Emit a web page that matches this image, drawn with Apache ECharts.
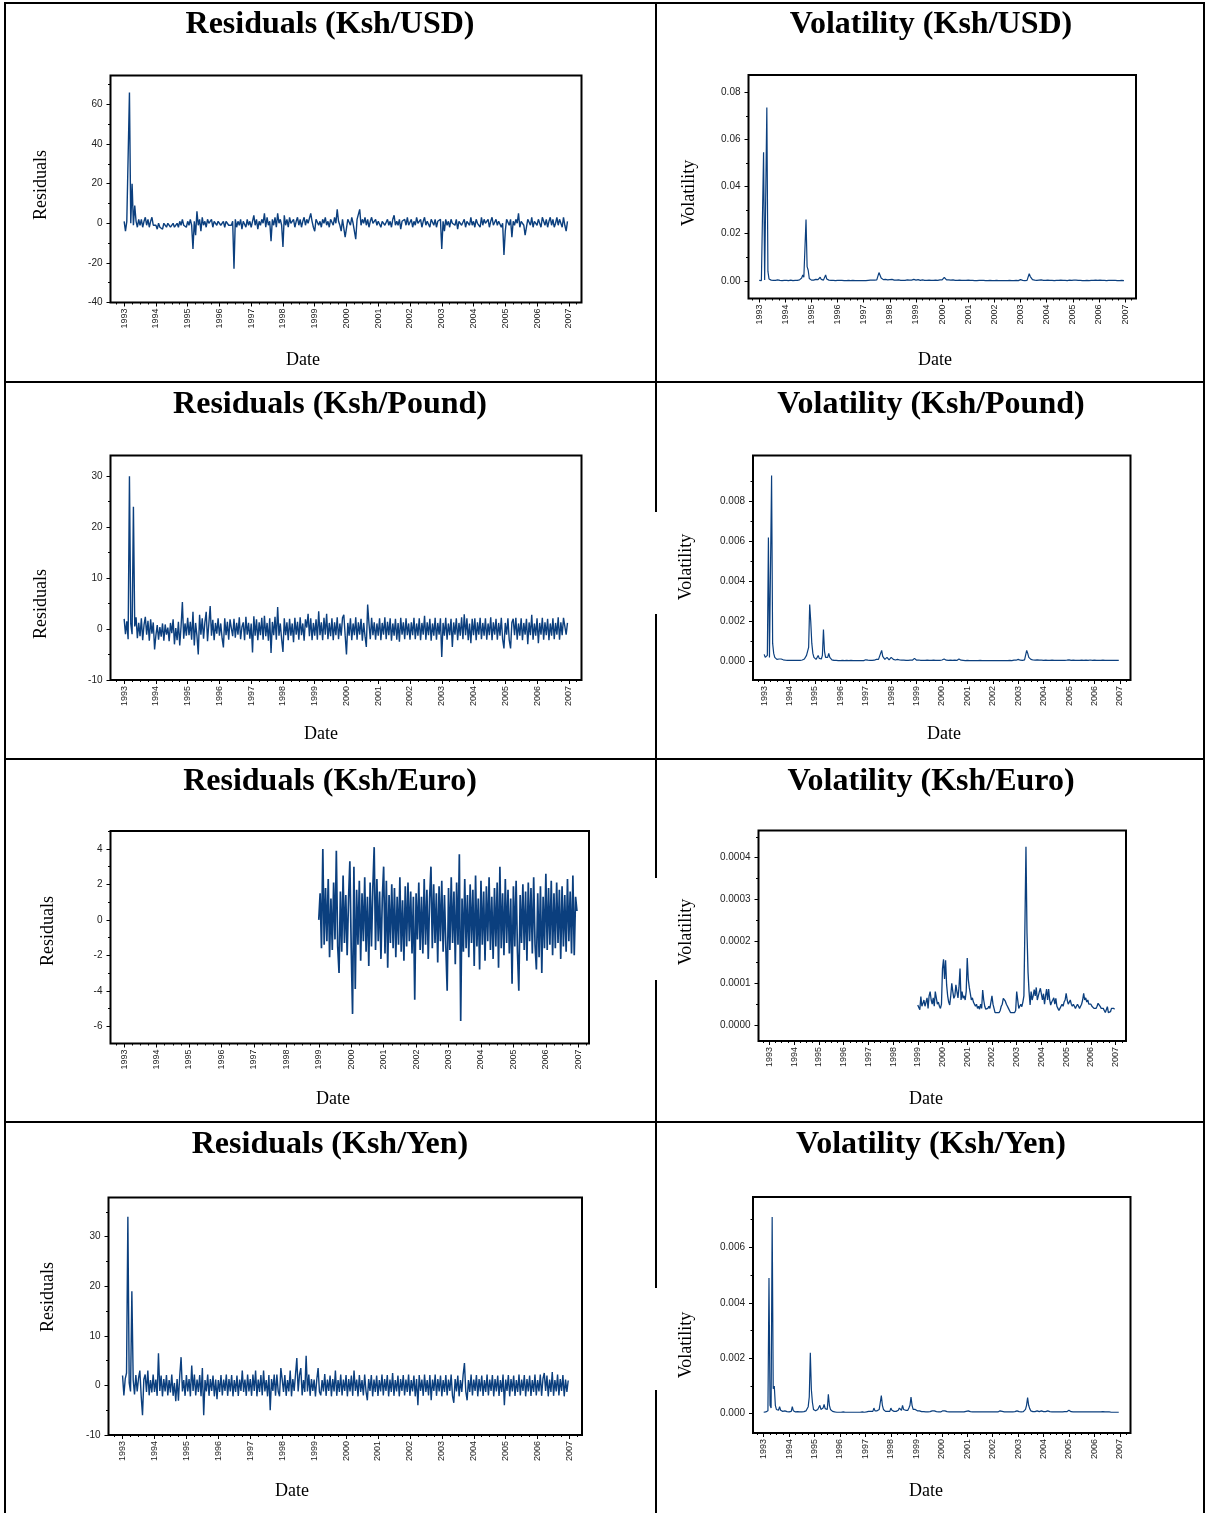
<!DOCTYPE html>
<html><head><meta charset="utf-8">
<script src="https://cdn.jsdelivr.net/npm/echarts@6.0.0/dist/echarts.min.js"></script>
<style>html,body{margin:0;padding:0;background:#fff}#c{width:1207px;height:1513px}</style>
</head><body><div id="c"></div>
<script>
// ---------- tick labels ----------
const years = [1993,1994,1995,1996,1997,1998,1999,2000,2001,2002,2003,2004,2005,2006,2007];
const usdResidTicks = [-40,-20,0,20,40,60];
const usdVolTicks = [0,0.02,0.04,0.06,0.08];
const poundResidTicks = [-10,0,10,20,30];
const poundVolTicks = [0,0.002,0.004,0.006,0.008];
const euroResidTicks = [-6,-4,-2,0,2,4];
const euroVolTicks = [0,0.0001,0.0002,0.0003,0.0004];
const yenResidTicks = [-10,0,10,20,30];
const yenVolTicks = [0,0.002,0.004,0.006];

// ---------- series (half-monthly, 24 values per year) ----------
const usdResidStart = 1993;
const usdResid = [
1,-4,1,0,66,0,20,-1,9,1,-2,2,-1,2,-2,1,3,-1,2,-2,1,3,-1,-2,
-1,-3,0,-2,-1,-3,0,-1,-2,0,-1,-2,-1,0,-2,-1,0,-2,1,-1,2,-1,0,-2,
1,-1,2,-1,-13,1,-6,6,-1,2,-4,3,-1,1,-2,2,0,-1,2,-2,1,0,-1,1,
2,-1,0,1,-2,1,2,-1,0,-1,1,-23,2,-2,1,-1,2,-3,1,0,-2,2,-1,1,
-2,1,4,-1,2,-3,1,-1,2,0,5,-2,3,-1,1,-9,2,-1,3,-2,5,0,2,-1,
-12,4,-1,2,-2,3,0,-1,2,-2,1,3,-1,2,-2,1,3,-1,2,0,-1,5,1,-2,
-4,2,3,-1,1,-2,2,0,3,-1,1,-2,2,1,-1,3,0,7,1,-1,-4,2,1,-7,
-8,2,1,-1,3,0,1,-8,2,1,7,-1,2,0,3,-1,2,-2,1,3,0,-1,2,-1,
1,2,-2,1,2,-1,0,2,-1,1,-2,2,4,-1,1,-1,2,-3,1,0,2,-1,3,-1,
0,2,-2,1,-1,3,0,-1,2,-2,1,3,-1,1,0,-2,2,1,-1,2,-2,1,0,2,
-13,1,-4,2,-1,1,-2,2,0,1,-1,2,-3,1,2,-1,0,2,-2,1,2,-1,3,-1,
1,-2,2,0,1,-2,3,-1,2,0,-1,2,-2,1,3,-1,0,2,-1,1,2,-2,0,-16,
-4,2,1,-1,2,-7,1,-1,2,0,5,-2,1,2,-1,-6,-7,2,1,-1,3,-2,1,2,
-1,2,0,-2,3,1,-1,2,-2,1,3,-1,2,-2,0,3,-1,2,1,-2,3,-1,-4,1];

const usdVolStart = 1993;
const usdVol = [
0.0002,0.0001,0.0001,0.0002,0.0545,0.0003,0.0004,0.0735,0.004,0.0008,0.0004,0.0003,0.0002,0.0002,0.0003,0.0002,0.0002,0.0004,0.0003,0.0002,0.0002,0.0001,0.0002,0.0002,
0.0001,0.0002,0.0002,0.0001,0.0002,0.0003,0.0002,0.0001,0.0002,0.0002,0.0001,0.0002,0.0003,0.0004,0.0006,0.0012,0.0025,0.0015,0.0018,0.026,0.006,0.0045,0.001,0.0005,
0.0003,0.0002,0.0003,0.0004,0.0006,0.0008,0.0005,0.0007,0.0015,0.0006,0.0004,0.0003,0.0005,0.0025,0.0008,0.0004,0.0003,0.0002,0.0002,0.0001,0.0002,0.0002,0.0001,0.0002,
0.0002,0.0001,0.0002,0.0003,0.0002,0.0001,0.0001,0.0002,0.0001,0.0001,0.0002,0.0002,0.0001,0.0001,0.0002,0.0001,0.0001,0.0002,0.0001,0.0001,0.0001,0.0002,0.0001,0.0001,
0.0001,0.0002,0.0001,0.0001,0.0002,0.0002,0.0003,0.0002,0.0003,0.0004,0.0003,0.0005,0.0004,0.0008,0.0035,0.004,0.0012,0.0008,0.0005,0.0004,0.0006,0.0003,0.0004,0.0003,
0.0005,0.001,0.0006,0.0004,0.0003,0.0004,0.0003,0.0002,0.0004,0.0003,0.0002,0.0003,0.0002,0.0003,0.0002,0.0003,0.0004,0.0002,0.0003,0.0002,0.0003,0.0002,0.0006,0.0003,
0.0003,0.0002,0.0005,0.0003,0.0002,0.0003,0.0004,0.0003,0.0002,0.0003,0.0002,0.0002,0.0003,0.0002,0.0002,0.0003,0.0002,0.0002,0.0003,0.0002,0.0002,0.0003,0.0004,0.0003,
0.0004,0.0008,0.0015,0.0007,0.0004,0.0003,0.0004,0.0003,0.0003,0.0002,0.0004,0.0003,0.0002,0.0003,0.0002,0.0002,0.0003,0.0002,0.0002,0.0003,0.0002,0.0003,0.0002,0.0002,
0.0003,0.0002,0.0002,0.0001,0.0002,0.0002,0.0001,0.0002,0.0001,0.0002,0.0002,0.0001,0.0002,0.0003,0.0002,0.0001,0.0001,0.0002,0.0001,0.0001,0.0002,0.0001,0.0001,0.0001,
0.0001,0.0001,0.0002,0.0001,0.0001,0.0001,0.0001,0.0002,0.0001,0.0001,0.0001,0.0001,0.0001,0.0001,0.0002,0.0001,0.0001,0.0001,0.0001,0.0001,0.0002,0.0001,0.0001,0.0002,
0.0005,0.0003,0.0002,0.0002,0.0001,0.0002,0.0002,0.0004,0.003,0.0018,0.001,0.0005,0.0004,0.0003,0.0003,0.0002,0.0002,0.0003,0.0002,0.0004,0.0003,0.0002,0.0003,0.0002,
0.0002,0.0003,0.0002,0.0002,0.0001,0.0002,0.0002,0.0001,0.0002,0.0002,0.0001,0.0002,0.0002,0.0003,0.0002,0.0002,0.0003,0.0002,0.0002,0.0001,0.0002,0.0003,0.0002,0.0002,
0.0007,0.0003,0.0002,0.0003,0.0002,0.0002,0.0001,0.0002,0.0002,0.0001,0.0002,0.0001,0.0001,0.0002,0.0002,0.0001,0.0002,0.0002,0.0001,0.0002,0.0002,0.0003,0.0002,0.0002,
0.0002,0.0003,0.0002,0.0002,0.0003,0.0002,0.0002,0.0001,0.0002,0.0002,0.0003,0.0002,0.0002,0.0002,0.0001,0.0002,0.0002,0.0001,0.0002,0.0001,0.0001,0.0002,0.0001,0.0001];

const poundResidStart = 1993;
const poundResid = [
2,-1,1.5,-2,30,1,-1,24,0.5,2.3,-1.8,1.2,-1.4,2.1,-2.2,0.8,2.4,-1.1,1.6,-2.3,1.9,-0.9,1.3,-4,
-1.2,0.8,-2.1,0.4,-1.5,1.1,-2.3,0.9,-1.1,0.3,-2.4,1.2,-0.8,1.9,-3,0.2,-2.2,1.4,-3.2,0.5,5.3,-1.9,1.1,-1.3,
2.2,-1.2,1.4,-2.1,3.4,-3.2,1.2,-1.3,-5,2.8,-1.1,2.1,-1.9,1.3,3.4,-2.4,1.1,4.5,-1.3,1.8,-2.2,1.2,-0.9,2.1,
-1.3,1.1,-1.8,-3.6,2.1,-1.2,1.4,-2.1,1.9,0.2,-1.4,2,-1.7,1.2,-1.1,2.3,-2,0.4,1.3,-2.2,2.4,-1.1,1.2,-1.9,
1.1,-4.6,2.5,-1.3,1.9,-2.2,1.3,-1.2,2.2,-2.1,2.6,-1.4,1.2,-2.3,2.1,-4.7,1.4,-1.2,2.4,-2.1,4.3,-1.3,1.1,-2,
-4.5,2.1,-1.2,1.3,-2.2,2,-1.3,1.1,-2.6,2.2,-1.1,1.4,-2.1,2.3,-1.2,1.1,-2.3,1.9,0.3,3,-1.4,2.1,-2.2,1.2,
-1.3,1.9,-2.1,3.5,-1.2,1.3,-2.2,2.2,-1.1,3,-2,1.2,-1.4,2.1,-2.2,1.3,-1.2,2.3,-2,1.1,-1.3,2.2,2.8,-1.2,
-5,1.2,-1.3,2.1,-2.2,1.1,-1.2,2.3,-2.1,1.3,-1.1,2,-2.3,1.2,-1.4,-3.5,4.8,1.1,-2,2.2,-1.2,1.3,-2.1,1.1,
-1.3,2.1,-2.2,1.2,-1.1,2.3,-2,1.4,-1.2,2.1,-2.3,1.1,-1.3,2,-2.1,1.2,-2.5,2.2,-1.1,1.3,-2,2.1,-1.2,1.1,
-2.1,1.3,-1.2,2.2,-2,1.1,-1.3,2.1,-2.2,1.2,-1.1,2.6,-2.1,1.3,-1.2,2,-2.3,1.1,-1.3,2.2,-2.1,1.2,-1.1,2.1,
-5.5,1.2,-1.3,2.2,-2.1,1.1,-1.2,2,-3.5,1.3,-1.1,2.1,-2.2,1.2,-1.3,2.3,-2,2.9,-1.2,2.1,-2.2,1.1,-2.8,2,
-1.2,2.1,-2.2,1.3,-1.1,2.2,-2,1.2,-1.3,2.1,-2.1,1.1,-1.2,2.3,-2.2,1.3,-1.1,2,-2.1,1.2,-1.3,2.2,-2,-3.8,
1.2,-1.1,2.1,-2.2,-3.8,1.3,2,-1.2,2.2,-2.1,1.1,-1.3,2.1,-2.2,1.2,-1.1,2,-3,1.3,-1.2,2.8,-2.1,1.1,-1.3,
2.1,-2.8,1.2,-1.1,2.2,-2.1,1.3,-1.2,2,-2.2,1.1,-1.3,2.1,-2,1.2,-1.1,2.3,-2.1,1.3,-1.2,2.2,2.5,-1.1,1.2];

const poundVolStart = 1993;
const poundVol = [
0.00035,0.0002,0.0001,0.0003,0.0062,0.0002,0.0001,0.0093,0.0009,0.0004,0.0002,0.0002,0.0001,0.0001,0.00012,0.00015,0.00012,0.0001,0.00008,0.00007,0.00006,0.00006,0.00005,0.00005,
0.00005,0.00005,0.00005,0.00005,0.00005,0.00005,0.00005,0.00005,0.00005,0.00006,0.00005,0.00006,0.00007,0.0001,0.00012,0.00018,0.0003,0.0005,0.0007,0.00285,0.002,0.0009,0.0004,0.0002,
0.0001,0.0001,0.00012,0.0003,0.00015,0.0001,0.00012,0.0003,0.0016,0.0005,0.0002,0.00015,0.0002,0.0004,0.0002,0.0001,0.00008,0.00006,0.00005,0.00005,0.00005,0.00004,0.00004,0.00004,
0.00004,0.00004,0.00005,0.00004,0.00004,0.00004,0.00005,0.00004,0.00004,0.00004,0.00005,0.00004,0.00004,0.00004,0.00004,0.00005,0.00004,0.00004,0.00004,0.00005,0.00004,0.00004,0.00004,0.00005,
0.00008,0.0001,0.00006,0.00005,0.00005,0.00006,0.00005,0.00007,0.00006,0.00008,0.0001,0.00008,0.0001,0.00015,0.0004,0.00055,0.00025,0.00015,0.0001,0.00012,0.0002,0.0001,0.00008,0.0001,
0.0002,0.00012,0.0001,0.00008,0.00007,0.00006,0.0001,0.00008,0.00007,0.00006,0.00006,0.00005,0.00006,0.00005,0.00005,0.00006,0.00005,0.00005,0.00006,0.00005,0.00006,0.00008,0.00015,0.00008,
0.00006,0.0001,0.00007,0.00006,0.00005,0.00006,0.00005,0.00005,0.00005,0.00005,0.00006,0.00005,0.00005,0.00005,0.00005,0.00005,0.00006,0.00005,0.00005,0.00005,0.00005,0.00005,0.00005,0.00006,
0.00007,0.0001,0.00012,0.00008,0.00006,0.00006,0.00005,0.00005,0.00006,0.00005,0.00005,0.00005,0.00006,0.00005,0.00005,0.00008,0.00012,0.00008,0.00006,0.00005,0.00005,0.00005,0.00004,0.00005,
0.00005,0.00004,0.00004,0.00005,0.00004,0.00004,0.00004,0.00005,0.00004,0.00004,0.00004,0.00004,0.00005,0.00004,0.00004,0.00004,0.00004,0.00005,0.00004,0.00004,0.00004,0.00004,0.00004,0.00004,
0.00004,0.00004,0.00004,0.00004,0.00004,0.00004,0.00004,0.00004,0.00004,0.00004,0.00004,0.00004,0.00004,0.00004,0.00004,0.00004,0.00005,0.00004,0.00004,0.00005,0.00006,0.00005,0.00006,0.00008,
0.0001,0.00007,0.00006,0.00005,0.00005,0.00006,0.00008,0.00015,0.00055,0.0004,0.0002,0.00012,0.0001,0.00008,0.00007,0.00006,0.00006,0.00007,0.00008,0.00006,0.00006,0.00007,0.00006,0.00005,
0.00005,0.00005,0.00006,0.00005,0.00005,0.00005,0.00005,0.00005,0.00006,0.00005,0.00005,0.00005,0.00005,0.00005,0.00005,0.00005,0.00005,0.00005,0.00005,0.00005,0.00005,0.00006,0.00006,0.00007,
0.00008,0.00006,0.00005,0.00005,0.00006,0.00005,0.00005,0.00005,0.00005,0.00005,0.00005,0.00005,0.00006,0.00005,0.00005,0.00005,0.00006,0.00005,0.00005,0.00005,0.00007,0.00006,0.00005,0.00005,
0.00006,0.00005,0.00005,0.00006,0.00005,0.00005,0.00005,0.00005,0.00006,0.00005,0.00005,0.00005,0.00005,0.00005,0.00005,0.00006,0.00005,0.00005,0.00005,0.00005,0.00005,0.00005,0.00005,0.00005];

const euroResidStart = 1999;
const euroResid = [
0,1.5,-1.6,4,-1.4,1.8,-1.2,2.3,-2.1,1.2,-1.7,2.1,-1.1,3.9,-1.5,-3,1.6,-1.8,2.5,-1.3,1.4,-2,1.1,3.3,
-1.6,-5.3,3,-3.9,1.7,-1.4,2.2,-2.3,1.5,-1.2,2.4,-1.8,1.3,-2.6,2.1,-1.5,1.8,4.1,-1.7,2.3,-1.2,1.6,-2.2,1.2,
3,-1.9,2.2,-2.7,1.4,-1.3,2,-1.6,1.8,-2.1,1.3,-1.4,2.4,-1.8,1.1,-2.3,1.9,-1.5,2.1,-1.2,1.6,-1.9,1.3,-4.5,
1.5,-1.1,2.1,-1.7,1.3,-1.9,2.3,-1.4,1.7,-2.2,1.2,3,-1.6,2,-1.3,1.5,-2.4,1.9,-1.2,2.2,-1.8,1.4,-1.5,-4,
1.8,-1.7,2.4,-1.3,1.6,-2.5,2.1,-1.4,3.7,-5.7,1.2,-1.8,2.3,-1.6,1.4,-2.1,2,-1.3,1.7,-2.6,2.5,-1.5,1.2,-2.8,
2.2,-1.4,1.6,-2.3,1.9,-1.2,2.4,-1.7,1.3,-2.2,1.8,-1.5,2.1,-2.7,3,-1.6,1.5,-2,2.3,-1.3,1.7,-1.9,1.2,-3.6,
1.9,-1.5,2.2,-1.8,-4,1.4,-1.3,2,-1.7,1.6,-2.3,2.1,-1.2,1.8,-1.9,2.4,-1.4,-2.8,1.5,-2.1,1.9,-3,1.3,-1.6,
2.6,-1.7,1.8,-1.4,2.2,-2,1.5,-1.6,2.1,-1.3,1.7,-2.2,1.9,-1.5,1.4,-1.8,2.3,-1.2,1.6,-1.9,2.5,-2,1.3,0.5];

const euroVolStart = 1999;
const euroVol = [
0.000048,0.000042,0.000037,0.000068,0.000045,0.000052,0.00006,0.000045,0.000055,0.000065,0.00004,0.00007,0.00008,0.00006,0.00005,0.000065,0.000045,0.00008,0.000065,0.00005,0.000055,0.000045,0.00004,0.00005,
0.000135,0.000157,0.00011,0.000155,0.000096,0.00007,0.000055,0.000048,0.00007,0.0001,0.00008,0.000064,0.00007,0.000096,0.00008,0.000065,0.00009,0.000135,0.00006,0.00008,0.000064,0.00007,0.00006,0.00008,
0.00016,0.00011,0.00009,0.000075,0.00006,0.000065,0.000055,0.00005,0.000045,0.00005,0.00004,0.000045,0.000038,0.00005,0.00004,0.000084,0.00006,0.000045,0.000038,0.000036,0.00004,0.000045,0.00004,0.000044,
0.00007,0.00005,0.00004,0.00003,0.000028,0.00003,0.000028,0.00003,0.000035,0.000045,0.00005,0.000064,0.00006,0.000057,0.00005,0.000045,0.00004,0.000035,0.00003,0.000032,0.00003,0.000028,0.00003,0.000035,
0.00008,0.00006,0.00004,0.000045,0.00005,0.000044,0.000055,0.00007,0.00024,0.000426,0.00022,0.000127,0.00008,0.000048,0.00008,0.00006,0.00007,0.000085,0.00007,0.00009,0.00006,0.00007,0.00008,0.000088,
0.000088,0.00006,0.000075,0.00005,0.00007,0.000086,0.00006,0.000086,0.00006,0.000048,0.000055,0.00006,0.000065,0.00005,0.000064,0.000045,0.00004,0.000035,0.00004,0.000045,0.00005,0.000045,0.000055,0.00006,
0.000076,0.00006,0.00005,0.000048,0.00006,0.00005,0.000045,0.00005,0.000045,0.00004,0.000045,0.00005,0.000045,0.00004,0.000045,0.00005,0.00006,0.000076,0.00006,0.000065,0.000055,0.00006,0.00005,0.000048,
0.00005,0.000045,0.000048,0.00004,0.000036,0.00004,0.000045,0.000052,0.00005,0.000045,0.00004,0.000036,0.00004,0.000035,0.00003,0.000028,0.000044,0.00003,0.000026,0.000032,0.00004,0.000038,0.00004,0.000038];

const yenResidStart = 1993;
const yenResid = [
2,-2,1.3,2.5,34,0.5,-1.2,19,1.1,-1.8,2.1,-1.2,1.4,3,-2.1,-6,1.2,2.2,-1.3,3,-2,1.1,-1.4,2.2,
-1.3,1.2,-2.1,6.5,-1.1,2,-2.2,1.3,-1.2,2.1,-2,1.1,-1.4,2.2,-2.1,0.5,-3.2,1.3,-3.1,2,5.7,-1.2,1.1,-2.1,
2.1,-1.2,1.3,-2.2,4,-1.1,2.2,-2,1.2,-1.3,2.1,-2.2,3.5,-6,1.1,-1.2,2.2,-2.1,1.3,-1.1,2,-2.2,1.2,-2.8,
1.1,-1.3,2.1,-2,1.2,-1.1,2.2,-2.1,1.3,-1.2,2.1,-2.2,1.1,-1.3,2,-2.1,1.2,-1.1,3,-1.3,1.2,-2.1,2.2,-1.2,
1.3,-2.1,2.2,-1.1,3,-2.2,1.2,-1.3,2.1,-2,3,-1.2,1.1,-2.2,2.1,-5,1.3,-1.1,2.2,-2.1,2.2,-1.2,-2.2,3.5,
1.2,-1.3,2.1,-2.1,1.1,-1.2,3,-2.2,1.3,-1.1,2.2,5.5,-1.2,2.1,3.5,-2,1.1,-1.3,6,-1.2,2.2,-2.1,1.3,-1.1,
1.2,-2.2,1.2,3.5,-1.3,-2,1.1,-1.2,2.3,-2.1,1.2,-1.1,2,-2.2,1.3,-1.2,3,-2.1,1.1,-1.3,2.2,-2,1.2,-1.1,
2.1,-2.2,1.3,-1.2,2,-2.1,3,-1.1,1.2,-2.2,2.1,-1.3,1.1,-2,2.2,-1.2,-3,1.3,-1.1,2.1,-2.2,1.2,-1.3,2,
-2.1,1.1,-1.2,2.2,-2,1.3,-1.1,2.1,-2.2,1.2,-1.3,2.5,-2.1,1.1,-1.2,2,-2.2,1.3,-1.1,2.1,-2,1.2,-1.3,2.2,
-2.1,1.1,-1.2,2,-2.2,1.3,-4,2.1,-1.1,1.2,-2.1,2.2,-1.3,1.1,-2,2.1,-3,1.2,-1.1,2.2,-2.1,1.3,-1.2,2,
-2.2,1.1,-1.3,2.1,-2,1.2,-1.1,2.2,-2.1,-3.5,1.3,-1.2,2,-2.2,1.1,-1.3,2.1,4.5,-1.2,-3,1.1,-1.3,2.2,-2,
1.2,-1.1,2.1,-2.2,1.3,-1.2,2,-2.1,1.1,-1.3,2.2,-2,1.2,-1.1,2.1,-2.2,1.3,-1.2,2,-2.1,1.1,-1.3,2.2,-4,
1.2,-1.1,2.1,-2.2,1.3,-1.2,2,-2.1,1.1,-1.3,2.2,-2,1.2,-1.1,2.1,-2.2,1.3,-1.2,2,-2.1,1.1,-1.3,2.2,-2,
1.1,-1.2,2.2,-2.1,1.3,2.5,-1.1,2,-2.2,1.2,-1.3,2.7,-2.1,1.1,-1.2,2.2,-2,1.3,-1.1,2.1,-2.2,1.2,-1.3,1];

const yenVolStart = 1993;
const yenVol = [
0.00005,0.00005,0.00006,0.00006,0.0001,0.0049,0.0003,0.0002,0.0071,0.0009,0.001,0.0003,0.00015,0.0001,0.00012,0.00025,0.00012,0.0001,0.00008,0.00007,0.0001,0.00008,0.00007,0.00006,
0.00006,0.00006,0.00008,0.00025,0.0001,0.00008,0.00006,0.00006,0.00007,0.00006,0.00006,0.00007,0.00006,0.00006,0.00007,0.00008,0.0001,0.00012,0.00025,0.0006,0.0022,0.00086,0.0004,0.00015,
0.0001,0.0001,0.00012,0.00015,0.0002,0.0003,0.00015,0.00012,0.0002,0.00033,0.00018,0.00012,0.00015,0.0007,0.0003,0.00015,0.0001,0.00008,0.00007,0.00006,0.00006,0.00005,0.00006,0.00005,
0.00005,0.00005,0.00005,0.00006,0.00005,0.00005,0.00005,0.00005,0.00005,0.00005,0.00005,0.00005,0.00005,0.00005,0.00005,0.00005,0.00005,0.00005,0.00005,0.00005,0.00005,0.00006,0.00005,0.00005,
0.00006,0.00006,0.00007,0.00008,0.0001,0.00008,0.00007,0.00008,0.0002,0.0001,0.00008,0.0001,0.00012,0.00015,0.0004,0.00065,0.0003,0.00015,0.0001,0.00008,0.0001,0.00008,0.00007,0.00008,
0.0002,0.00012,0.0001,0.00008,0.00007,0.00008,0.0001,0.00012,0.0002,0.00015,0.00012,0.0003,0.00015,0.0001,0.00012,0.00015,0.00012,0.0002,0.0003,0.0006,0.0003,0.00015,0.0002,0.00015,
0.00012,0.0001,0.00008,0.0001,0.00008,0.00007,0.00006,0.00007,0.00006,0.00006,0.00007,0.00006,0.00006,0.00007,0.00008,0.0001,0.00012,0.0001,0.00008,0.00007,0.00006,0.00006,0.00007,0.00006,
0.00008,0.0001,0.00012,0.0001,0.00008,0.00007,0.00006,0.00006,0.00007,0.00006,0.00006,0.00006,0.00007,0.00006,0.00006,0.00006,0.00006,0.00006,0.00007,0.00006,0.00006,0.00006,0.00007,0.00008,
0.0001,0.0001,0.00008,0.00007,0.00006,0.00006,0.00006,0.00006,0.00006,0.00006,0.00006,0.00006,0.00006,0.00006,0.00006,0.00006,0.00007,0.00006,0.00006,0.00006,0.00006,0.00006,0.00006,0.00006,
0.00006,0.00006,0.00006,0.00006,0.00006,0.00006,0.00007,0.0001,0.00012,0.00008,0.00007,0.00006,0.00006,0.00006,0.00006,0.00006,0.00006,0.00006,0.00006,0.00006,0.00006,0.00007,0.00008,0.0001,
0.00008,0.00007,0.00007,0.00006,0.00006,0.00007,0.00008,0.00015,0.0003,0.00058,0.0003,0.00018,0.0001,0.00008,0.00007,0.00006,0.00007,0.00008,0.0001,0.00008,0.00007,0.00008,0.0001,0.00008,
0.00007,0.00006,0.00007,0.00008,0.0001,0.00008,0.00007,0.00006,0.00006,0.00007,0.00006,0.00006,0.00006,0.00007,0.00006,0.00006,0.00006,0.00006,0.00006,0.00006,0.00007,0.00006,0.00007,0.00008,
0.00012,0.00008,0.00007,0.00006,0.00006,0.00006,0.00006,0.00006,0.00006,0.00006,0.00006,0.00006,0.00006,0.00006,0.00006,0.00006,0.00006,0.00006,0.00006,0.00006,0.00006,0.00006,0.00006,0.00006,
0.00006,0.00006,0.00006,0.00007,0.00006,0.00006,0.00006,0.00008,0.00007,0.00006,0.00006,0.00006,0.00006,0.00006,0.00006,0.00006,0.00005,0.00005,0.00005,0.00005,0.00005,0.00005,0.00005,0.00005];

// ---------- layout ----------
const LINE = '#0b3f7e';
const SANS = '"Liberation Sans", Arial, sans-serif';
const SERIF = '"Liberation Serif", "Times New Roman", serif';
const STEP = 1 / 24;
function toPoints(start, vals) { return vals.map((v, i) => [start + i * STEP, v]); }
const quarterTicks = [];
for (let y = 1992; y <= 2007; y++) for (const q of [0.25, 0.5, 0.75]) quarterTicks.push(y + q);

const panels = [
  {box:[110.5, 75.5, 581.5, 302.5], x:[1992.57, 2007.40], y:[-40, 74.6], ticks:usdResidTicks, minor:[-30,-10,10,30,50,70], dec:0, w:1.4, data:toPoints(usdResidStart, usdResid)},
  {box:[748.5, 75, 1136, 298.5], x:[1992.59, 2007.42], y:[-0.0075, 0.0873], ticks:usdVolTicks, minor:[0.01,0.03,0.05,0.07], dec:2, w:1.2, data:toPoints(usdVolStart, usdVol)},
  {box:[110.5, 455.5, 581.5, 680], x:[1992.57, 2007.40], y:[-10, 34.06], ticks:poundResidTicks, minor:[-5,5,15,25], dec:0, w:1.4, data:toPoints(poundResidStart, poundResid)},
  {box:[753, 455.5, 1130.5, 680], x:[1992.56, 2007.42], y:[-0.00093, 0.0103], ticks:poundVolTicks, minor:[0.001,0.003,0.005,0.007,0.009], dec:3, w:1.2, data:toPoints(poundVolStart, poundVol)},
  {box:[110.5, 831, 589, 1043.5], x:[1992.58, 2007.33], y:[-6.97, 5.01], ticks:euroResidTicks, minor:[-5,-3,-1,1,3,5], dec:0, w:1.7, data:toPoints(euroResidStart, euroResid)},
  {box:[758.5, 830.5, 1126, 1041], x:[1992.56, 2007.42], y:[-0.000038, 0.000465], ticks:euroVolTicks, minor:[0.00005,0.00015,0.00025,0.00035,0.00045], dec:4, w:1.3, data:toPoints(euroVolStart, euroVol)},
  {box:[108.5, 1197.5, 582, 1435], x:[1992.56, 2007.39], y:[-10, 37.9], ticks:yenResidTicks, minor:[-5,5,15,25,35], dec:0, w:1.4, data:toPoints(yenResidStart, yenResid)},
  {box:[753, 1197, 1130.5, 1433], x:[1992.58, 2007.42], y:[-0.0007, 0.00782], ticks:yenVolTicks, minor:[0.001,0.003,0.005,0.007], dec:3, w:1.2, data:toPoints(yenVolStart, yenVol)}
];

const option = {animation:false, backgroundColor:'#fff', grid:[], xAxis:[], yAxis:[], series:[], graphic:[]};
panels.forEach((p, k) => {
  option.grid.push({left:p.box[0], top:p.box[1], width:p.box[2]-p.box[0], height:p.box[3]-p.box[1],
    show:true, borderColor:'#000', borderWidth:2, backgroundColor:'transparent', containLabel:false});
  const xa = {gridIndex:k, type:'value', min:p.x[0], max:p.x[1], position:'bottom', axisLine:{show:false, onZero:false}, splitLine:{show:false}};
  option.xAxis.push(Object.assign({}, xa, {
    axisTick:{show:true, customValues:years, length:4, lineStyle:{color:'#000', width:1}},
    axisLabel:{show:true, customValues:years, rotate:90, margin:6, fontSize:9, color:'#222', fontFamily:SANS, formatter:v => String(v)}}));
  option.xAxis.push(Object.assign({}, xa, {
    axisTick:{show:true, customValues:quarterTicks.filter(v => v > p.x[0] && v < p.x[1]), length:2, lineStyle:{color:'#000', width:1}},
    axisLabel:{show:false}}));
  const ya = {gridIndex:k, type:'value', min:p.y[0], max:p.y[1], position:'left', axisLine:{show:false, onZero:false}, splitLine:{show:false}};
  option.yAxis.push(Object.assign({}, ya, {
    axisTick:{show:true, customValues:p.ticks, length:4, lineStyle:{color:'#000', width:1}},
    axisLabel:{show:true, customValues:p.ticks, margin:8, fontSize:10, color:'#222', fontFamily:SANS, formatter:v => Number(v).toFixed(p.dec)}}));
  option.yAxis.push(Object.assign({}, ya, {
    axisTick:{show:true, customValues:p.minor.filter(v => v > p.y[0] && v < p.y[1]), length:2.5, lineStyle:{color:'#000', width:1}},
    axisLabel:{show:false}}));
  option.series.push({type:'line', xAxisIndex:2*k, yAxisIndex:2*k, data:p.data, showSymbol:false, symbol:'none',
    lineStyle:{color:LINE, width:p.w}, itemStyle:{color:LINE}, z:3});
});

// titles and axis names
const texts = [
  ['Residuals (Ksh/USD)', 330, 25, 'title'], ['Volatility (Ksh/USD)', 931, 25, 'title'],
  ['Residuals (Ksh/Pound)', 330, 405, 'title'], ['Volatility (Ksh/Pound)', 931, 405, 'title'],
  ['Residuals (Ksh/Euro)', 330, 782, 'title'], ['Volatility (Ksh/Euro)', 931, 782, 'title'],
  ['Residuals (Ksh/Yen)', 330, 1145, 'title'], ['Volatility (Ksh/Yen)', 931, 1145, 'title'],
  ['Residuals', 41, 185, 'y'], ['Date', 303, 360, 'x'],
  ['Volatility', 689, 193, 'y'], ['Date', 935, 360, 'x'],
  ['Residuals', 41, 604, 'y'], ['Date', 321, 734, 'x'],
  ['Volatility', 686, 567, 'y'], ['Date', 944, 734, 'x'],
  ['Residuals', 48, 931, 'y'], ['Date', 333, 1099, 'x'],
  ['Volatility', 686, 932, 'y'], ['Date', 926, 1099, 'x'],
  ['Residuals', 48, 1297, 'y'], ['Date', 292, 1491, 'x'],
  ['Volatility', 686, 1345, 'y'], ['Date', 926, 1491, 'x']
];
texts.forEach(t => {
  const isTitle = t[3] === 'title';
  option.graphic.push({type:'text', x:t[1], y:t[2], rotation: t[3] === 'y' ? Math.PI/2 : 0, z:10,
    style:{text:t[0], fill:'#000', fontFamily:SERIF, fontSize: isTitle ? 32 : 18, fontWeight: isTitle ? 'bold' : 'normal',
      align:'center', verticalAlign:'middle'}});
});

// table rules
const rules = [
  [4, 3, 1205, 3], [5, 3, 5, 1513], [1204, 3, 1204, 1513],
  [4, 382, 1205, 382], [4, 759, 1205, 759], [4, 1122, 1205, 1122],
  [656, 3, 656, 512], [656, 614, 656, 878], [656, 980, 656, 1288], [656, 1390, 656, 1513]
];
rules.forEach(r => option.graphic.push({type:'line', z:10, shape:{x1:r[0], y1:r[1], x2:r[2], y2:r[3]}, style:{stroke:'#000', lineWidth:2}}));

const chart = echarts.init(document.getElementById('c'), null, {renderer:'canvas'});
chart.setOption(option);
</script>
</body></html>
